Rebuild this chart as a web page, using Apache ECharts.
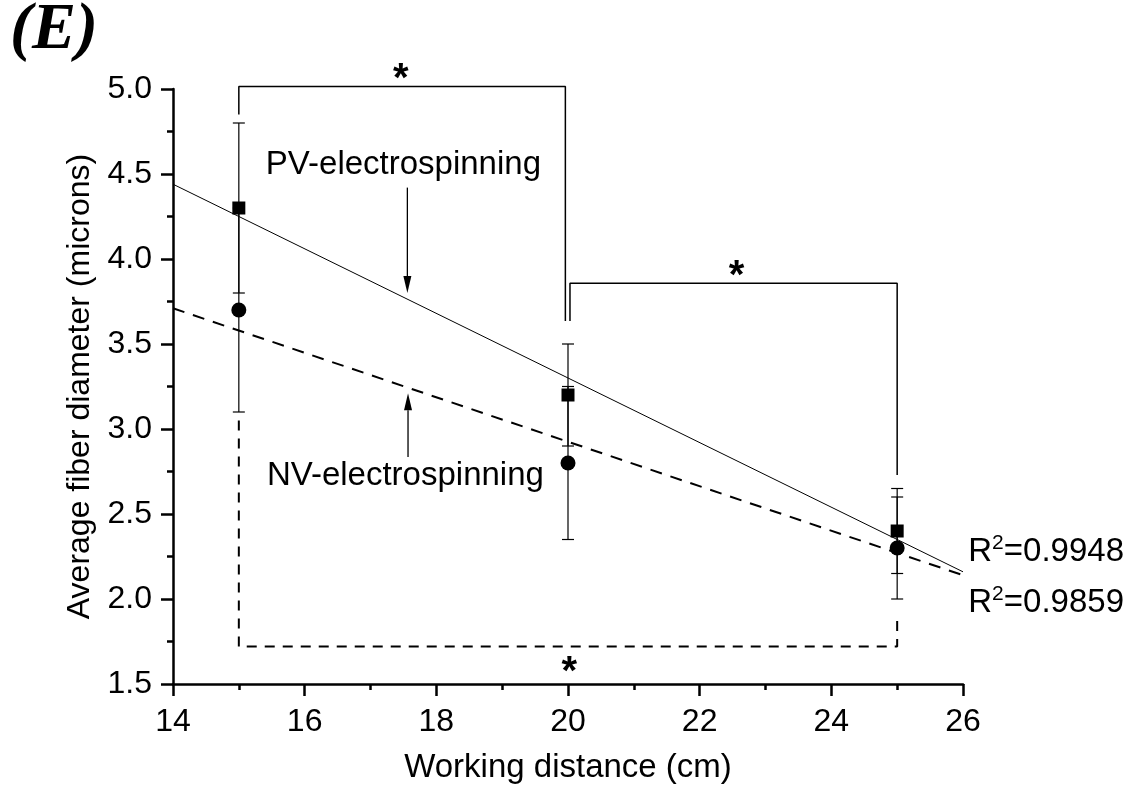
<!DOCTYPE html>
<html>
<head>
<meta charset="utf-8">
<script src="https://cdn.jsdelivr.net/npm/echarts@6/dist/echarts.min.js"></script>
<style>
html,body{margin:0;padding:0;background:#fff;}
#chart{width:1136px;height:796px;}
</style>
</head>
<body>
<div id="chart"></div>
<script>
// ---- data ----
const xTicks = [14, 16, 18, 20, 22, 24, 26];
const yTicks = [1.5, 2.0, 2.5, 3.0, 3.5, 4.0, 4.5, 5.0];
const distances = [15, 20, 25];
const pvMean = [4.3, 3.2, 2.4];
const pvErr = [0.5, 0.3, 0.25];
const nvMean = [3.7, 2.8, 2.3];
const nvErr = [0.6, 0.45, 0.3];
// linear fits (endpoints at x = 14 and 26)
const fitX = [14, 26];
const pvFitY = [4.44, 2.16];
const nvFitY = [3.71, 2.14];
// significance brackets
const bracketA = [[15, 4.85], [15, 5.015], [19.96, 5.015], [19.96, 3.635]];
const bracketB = [[20.03, 3.635], [20.03, 3.857], [25, 3.857], [25, 2.73]];
const bracketC = [[15, 3.05], [15, 1.72], [25, 1.72], [25, 1.89]];
const starX = [17.46, 22.56, 20.02];
const starY = [5.105, 3.945, 1.62];
// annotation arrows: x, start y, tip y
const arrowX = [17.56, 17.57];
const arrowFrom = [4.42, 2.836];
const arrowTo = [3.80, 3.21];
// annotation texts
const noteText = ['PV-electrospinning', 'NV-electrospinning', '{r|R}{s|2}{r|=0.9948}', '{r|R}{s|2}{r|=0.9859}'];
const noteX = [17.50, 17.53, 26.08, 26.08];
const noteY = [4.554, 2.723, 2.287, 1.987];
const xName = 'Working distance (cm)';
const yName = 'Average fiber diameter (microns)';
const panelLabel = '(E)';

const FONT = '"Liberation Sans", Arial, sans-serif';

const errData = [];
distances.forEach((d, i) => { errData.push([d, pvMean[i], pvErr[i]]); errData.push([d, nvMean[i], nvErr[i]]); });

function errRender(params, api) {
  const x = api.value(0), y = api.value(1), e = api.value(2);
  const t = api.coord([x, y + e]);
  const b = api.coord([x, y - e]);
  const w = 6;
  const st = { stroke: '#000', lineWidth: 1.2 };
  return { type: 'group', children: [
    { type: 'line', shape: { x1: t[0], y1: t[1], x2: b[0], y2: b[1] }, style: st },
    { type: 'line', shape: { x1: t[0] - w, y1: t[1], x2: t[0] + w, y2: t[1] }, style: st },
    { type: 'line', shape: { x1: b[0] - w, y1: b[1], x2: b[0] + w, y2: b[1] }, style: st }
  ]};
}

function arrowRender(params, api) {
  const i = params.dataIndex;
  const s = api.coord([arrowX[i], arrowFrom[i]]);
  const t = api.coord([arrowX[i], arrowTo[i]]);
  const dir = t[1] > s[1] ? 1 : -1;
  const hl = 17, hw = 4;
  const base = t[1] - dir * hl;
  return { type: 'group', children: [
    { type: 'line', shape: { x1: s[0], y1: s[1], x2: t[0], y2: base }, style: { stroke: '#000', lineWidth: 1.3 } },
    { type: 'polygon', shape: { points: [[t[0], t[1]], [t[0] - hw, base], [t[0] + hw, base]] }, style: { fill: '#000' } }
  ]};
}

function noteRender(params, api) {
  const i = params.dataIndex;
  const p = api.coord([noteX[i], noteY[i]]);
  return { type: 'text', x: p[0], y: p[1], style: {
    text: noteText[i], fill: '#000', font: '33px ' + FONT,
    align: i < 2 ? 'center' : 'left', verticalAlign: 'middle',
    rich: {
      r: { fontSize: 33, fontFamily: FONT, color: '#000', verticalAlign: 'bottom', lineHeight: 36 },
      s: { fontSize: 21, fontFamily: FONT, color: '#000', verticalAlign: 'top', lineHeight: 36, padding: [0, 0, 0, 0] }
    } } };
}

function starRender(params, api) {
  const i = params.dataIndex;
  const p = api.coord([starX[i], starY[i]]);
  return { type: 'text', x: p[0], y: p[1] + 9, style: {
    text: '*', fill: '#000', font: 'bold 40px ' + FONT, align: 'center', verticalAlign: 'middle' } };
}

const chart = echarts.init(document.getElementById('chart'), null, { renderer: 'canvas' });
const axisLineStyle = { color: '#000', width: 2.5 };
chart.setOption({
  animation: false,
  backgroundColor: '#fff',
  graphic: [{ type: 'text', left: 10, top: -2, style: { text: panelLabel, fill: '#000', font: 'italic bold 66px "Liberation Serif", "Times New Roman", serif' } }],
  grid: { left: 173, right: 173, top: 89, bottom: 112 },
  xAxis: {
    type: 'value', min: xTicks[0], max: xTicks[xTicks.length - 1], interval: 2,
    name: xName, nameLocation: 'middle', nameGap: 67,
    nameTextStyle: { color: '#000', fontSize: 33, fontFamily: FONT },
    axisLine: { show: true, lineStyle: axisLineStyle },
    axisTick: { show: true, inside: false, length: 12, lineStyle: axisLineStyle },
    minorTick: { show: true, splitNumber: 2, length: 6, lineStyle: axisLineStyle },
    axisLabel: { color: '#000', fontSize: 32, fontFamily: FONT, margin: 22, showMinLabel: true, showMaxLabel: true },
    splitLine: { show: false }, minorSplitLine: { show: false }
  },
  yAxis: {
    type: 'value', min: yTicks[0], max: yTicks[yTicks.length - 1], interval: 0.5,
    name: yName, nameLocation: 'middle', nameGap: 73, nameRotate: 90,
    nameTextStyle: { color: '#000', fontSize: 32, fontFamily: FONT },
    axisLine: { show: true, lineStyle: axisLineStyle },
    axisTick: { show: true, inside: false, length: 12, lineStyle: axisLineStyle },
    minorTick: { show: true, splitNumber: 2, length: 6, lineStyle: axisLineStyle },
    axisLabel: { color: '#000', fontSize: 32, fontFamily: FONT, margin: 21, formatter: v => v.toFixed(1), showMinLabel: true, showMaxLabel: true },
    splitLine: { show: false }, minorSplitLine: { show: false }
  },
  series: [
    { type: 'line', data: fitX.map((x, i) => [x, pvFitY[i]]), symbol: 'none', lineStyle: { color: '#000', width: 1 }, z: 3, clip: false },
    { type: 'line', data: fitX.map((x, i) => [x, nvFitY[i]]), symbol: 'none', lineStyle: { color: '#000', width: 2, type: [12, 9] }, z: 3, clip: false },
    { type: 'line', data: bracketA, symbol: 'none', lineStyle: { color: '#000', width: 1.5 }, clip: false },
    { type: 'line', data: bracketB, symbol: 'none', lineStyle: { color: '#000', width: 1.5 }, clip: false },
    { type: 'line', data: bracketC, symbol: 'none', lineStyle: { color: '#000', width: 2, type: [10, 8] }, clip: false },
    { type: 'custom', renderItem: errRender, data: errData, z: 4, clip: false },
    { type: 'scatter', data: distances.map((d, i) => [d, pvMean[i]]), symbol: 'rect', symbolSize: 13, itemStyle: { color: '#000', opacity: 1 }, z: 5 },
    { type: 'scatter', data: distances.map((d, i) => [d, nvMean[i]]), symbol: 'circle', symbolSize: 15, itemStyle: { color: '#000', opacity: 1 }, z: 5 },
    { type: 'custom', renderItem: arrowRender, data: arrowX.map((x, i) => [x, arrowTo[i]]), z: 6, clip: false },
    { type: 'custom', renderItem: noteRender, data: noteX.map((x, i) => [x, noteY[i]]), z: 6, clip: false },
    { type: 'custom', renderItem: starRender, data: starX.map((x, i) => [x, starY[i]]), z: 6, clip: false }
  ]
});
</script>
</body>
</html>
